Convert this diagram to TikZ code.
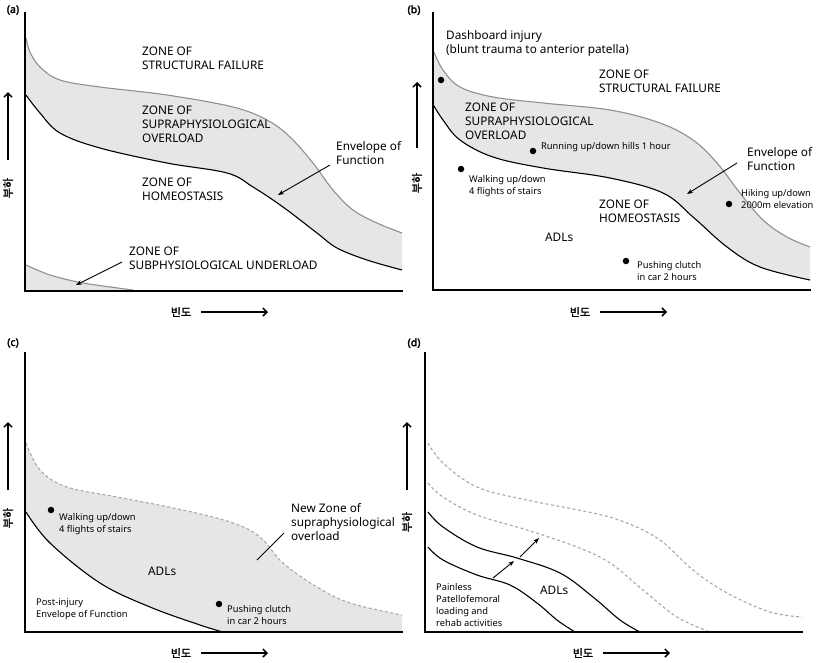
\documentclass[tikz,border=0pt]{standalone}
\usepackage{fontspec}
\setmainfont{Noto Sans}[AutoFakeBold=2.5]
\newfontfamily\kr{Noto Sans CJK KR}[AutoFakeBold=2]
\usetikzlibrary{arrows.meta}
\definecolor{zonefill}{HTML}{E6E6E6}
\definecolor{curvegray}{HTML}{909090}
\definecolor{dashgray}{HTML}{A8A8A8}
\tikzset{
  axisline/.style={line width=1.8pt, line cap=rect},
  curveblack/.style={line width=1.1pt, black},
  curvegrey/.style={line width=1.1pt, curvegray},
  curvedash/.style={line width=1.1pt, dashgray, dash pattern=on 3pt off 2.5pt},
  bigtxt/.style={font=\fontsize{11.8}{14.3}\selectfont, align=left, anchor=base west, inner sep=0pt},
  smalltxt/.style={font=\fontsize{9.3}{12.3}\selectfont, align=left, anchor=base west, inner sep=0pt},
  paneltag/.style={font=\fontsize{10.5}{12}\selectfont\bfseries, inner sep=0pt},
  axlabel/.style={font=\fontsize{11}{12}\kr\bfseries, inner sep=0pt},
  axarrow/.style={line width=1.5pt, -{Straight Barb[length=4pt, width=8pt, line width=1.5pt]}},
  ptr/.style={line width=0.9pt, -{Stealth[length=6pt, width=4.5pt]}},
  dotmark/.style={circle, fill=black, inner sep=0pt, minimum size=6.5pt},
}
\begin{document}
\begin{tikzpicture}[x=1pt, y=-1pt]
\useasboundingbox (0,0) rectangle (819,662);
\fill[white] (0,0) rectangle (819,662);

% ================= Panel (a) =================
\fill[zonefill] plot[smooth, tension=0.6] coordinates {(26,38) (30,52) (40,67) (60,80) (100,87) (167,95) (233,107) (267,120) (290,137) (313,163) (333,190) (353,210) (377,223) (402,233)}
  -- plot[smooth, tension=0.6] coordinates {(402,270) (367,260) (337,248) (317,233) (283,207) (253,187) (227,173) (167,163) (100,148) (60,133) (40,113) (26,95)} -- cycle;
\draw[curvegrey] plot[smooth, tension=0.6] coordinates {(26,38) (30,52) (40,67) (60,80) (100,87) (167,95) (233,107) (267,120) (290,137) (313,163) (333,190) (353,210) (377,223) (402,233)};
\draw[curveblack] plot[smooth, tension=0.6] coordinates {(26,95) (40,113) (60,133) (100,148) (167,163) (227,173) (253,187) (283,207) (317,233) (337,248) (367,260) (402,270)};
\fill[zonefill] plot[smooth] coordinates {(26,265) (50,275) (83,283) (133,290)} -- (26,290) -- cycle;
\draw[curvegrey] plot[smooth] coordinates {(26,265) (50,275) (83,283) (133,290)};
\draw[axisline] (25,13) -- (25,291) -- (402,291);

\node[paneltag] (tagA) at (13,10) {(a)};
\node[bigtxt] (aStruct) at (142,69.3) {ZONE OF\\STRUCTURAL FAILURE};
\node[bigtxt] (aSupra) at (142,142.6) {ZONE OF\\SUPRAPHYSIOLOGICAL\\OVERLOAD};
\node[bigtxt] (aHomeo) at (142,200.3) {ZONE OF\\HOMEOSTASIS};
\node[bigtxt] (aEnv) at (336,164.3) {Envelope of\\Function};
\node[bigtxt] (aSub) at (129,269.3) {ZONE OF\\SUBPHYSIOLOGICAL UNDERLOAD};
\coordinate (aEnvTail) at (330,165);
\coordinate (aEnvTip) at (278,195);
\draw[ptr] (aEnvTail) -- (aEnvTip);
\coordinate (aSubTail) at (122,262);
\coordinate (aSubTip) at (76,285);
\draw[ptr] (aSubTail) -- (aSubTip);

\node[axlabel, rotate=90] (aLoad) at (8,188) {부하};
\coordinate (aYs) at (8,160);
\coordinate (aYe) at (8,92);
\draw[axarrow] (aYs) -- (aYe);
\node[axlabel] (aFreq) at (181,312) {빈도};
\coordinate (aXs) at (201,312);
\coordinate (aXe) at (268,312);
\draw[axarrow] (aXs) -- (aXe);

% ================= Panel (b) =================
\fill[zonefill] plot[smooth, tension=0.6] coordinates {(434,52) (443,70) (460,87) (493,97) (543,103) (610,110) (660,123) (693,140) (717,163) (740,193) (763,220) (787,237) (810,247)}
  -- plot[smooth, tension=0.6] coordinates {(810,280) (760,267) (727,247) (693,217) (663,193) (610,178) (543,168) (493,157) (460,140) (443,120) (434,106)} -- cycle;
\draw[curvegrey] plot[smooth, tension=0.6] coordinates {(434,52) (443,70) (460,87) (493,97) (543,103) (610,110) (660,123) (693,140) (717,163) (740,193) (763,220) (787,237) (810,247)};
\draw[curveblack] plot[smooth, tension=0.6] coordinates {(434,106) (443,120) (460,140) (493,157) (543,168) (610,178) (663,193) (693,217) (727,247) (760,267) (810,280)};
\draw[axisline] (433,13) -- (433,290) -- (810,290);

\node[paneltag] (tagB) at (414,10) {(b)};
\node[bigtxt] (bDash) at (446,53.3) {Dashboard injury\\(blunt trauma to anterior patella)};
\node[dotmark] (bDotDash) at (441,80) {};
\node[bigtxt] (bStruct) at (599,92.3) {ZONE OF\\STRUCTURAL FAILURE};
\node[bigtxt] (bSupra) at (465,139.6) {ZONE OF\\SUPRAPHYSIOLOGICAL\\OVERLOAD};
\node[dotmark] (bDotRun) at (533,151) {};
\node[smalltxt] (bRun) at (541,149) {Running up/down hills 1 hour};
\node[dotmark] (bDotWalk) at (461,169) {};
\node[smalltxt] (bWalk) at (469,194.3) {Walking up/down\\4 flights of stairs};
\node[bigtxt] (bEnv) at (747,170.3) {Envelope of\\Function};
\coordinate (bEnvTail) at (737,163);
\coordinate (bEnvTip) at (687,194);
\draw[ptr] (bEnvTail) -- (bEnvTip);
\node[dotmark] (bDotHike) at (729,204) {};
\node[smalltxt] (bHike) at (741,208.3) {Hiking up/down\\2000m elevation};
\node[bigtxt] (bHomeo) at (599,222.3) {ZONE OF\\HOMEOSTASIS};
\node[bigtxt] (bADL) at (545,241) {ADLs};
\node[dotmark] (bDotPush) at (626,261) {};
\node[smalltxt] (bPush) at (637,280.3) {Pushing clutch\\in car 2 hours};

\node[axlabel, rotate=90] (bLoad) at (417,183) {부하};
\coordinate (bYs) at (417,148);
\coordinate (bYe) at (417,82);
\draw[axarrow] (bYs) -- (bYe);
\node[axlabel] (bFreq) at (580,312) {빈도};
\coordinate (bXs) at (600,312);
\coordinate (bXe) at (667,312);
\draw[axarrow] (bXs) -- (bXe);

% ================= Panel (c) =================
\fill[zonefill] plot[smooth, tension=0.6] coordinates {(26,443) (40,470) (67,487) (117,497) (183,510) (233,523) (260,537) (283,563) (317,587) (350,603) (402,615)}
  -- (402,632) -- (223,632)
  -- plot[smooth, tension=0.6] coordinates {(223,632) (200,625) (150,607) (100,583) (50,543) (26,512)} -- cycle;
\draw[curvedash] plot[smooth, tension=0.6] coordinates {(26,443) (40,470) (67,487) (117,497) (183,510) (233,523) (260,537) (283,563) (317,587) (350,603) (402,615)};
\draw[curveblack] plot[smooth, tension=0.6] coordinates {(26,512) (50,543) (100,583) (150,607) (200,625) (223,632)};
\draw[axisline] (25,353) -- (25,632) -- (402,632);

\node[paneltag] (tagC) at (13,343) {(c)};
\node[dotmark] (cDotWalk) at (51,510) {};
\node[smalltxt] (cWalk) at (59,532.3) {Walking up/down\\4 flights of stairs};
\node[bigtxt] (cNew) at (291,540.6) {New Zone of\\supraphysiological\\overload};
\coordinate (cNewA) at (284,533);
\coordinate (cNewB) at (257,560);
\draw[line width=0.9pt] (cNewA) -- (cNewB);
\node[bigtxt] (cADL) at (148,575) {ADLs};
\node[smalltxt] (cPost) at (36,617.3) {Post-injury\\Envelope of Function};
\node[dotmark] (cDotPush) at (219,604) {};
\node[smalltxt] (cPush) at (227,624.3) {Pushing clutch\\in car 2 hours};

\node[axlabel, rotate=90] (cLoad) at (8,518) {부하};
\coordinate (cYs) at (8,490);
\coordinate (cYe) at (8,422);
\draw[axarrow] (cYs) -- (cYe);
\node[axlabel] (cFreq) at (181,653) {빈도};
\coordinate (cXs) at (201,653);
\coordinate (cXe) at (268,653);
\draw[axarrow] (cXs) -- (cXe);

% ================= Panel (d) =================
\draw[curvedash] plot[smooth, tension=0.6] coordinates {(428,443) (443,463) (477,487) (527,500) (593,513) (627,523) (660,540) (693,570) (727,593) (770,612) (802,617)};
\draw[curvedash] plot[smooth, tension=0.6] coordinates {(428,483) (443,497) (477,515) (527,530) (577,547) (610,563) (643,590) (677,617) (710,632)};
\draw[curveblack] plot[smooth, tension=0.6] coordinates {(428,512) (443,527) (477,547) (517,558) (560,573) (593,597) (620,620) (640,632)};
\draw[curveblack] plot[smooth, tension=0.6] coordinates {(428,547) (443,560) (477,575) (510,585) (537,603) (557,620) (575,632)};
\draw[axisline] (425,353) -- (425,632) -- (802,632);

\node[paneltag] (tagD) at (414,343) {(d)};
\coordinate (dA1s) at (493,578);
\coordinate (dA1e) at (514,561);
\draw[ptr] (dA1s) -- (dA1e);
\coordinate (dA2s) at (520,557);
\coordinate (dA2e) at (539,538);
\draw[ptr] (dA2s) -- (dA2e);
\node[smalltxt] (dPain) at (436,626.9) {Painless\\Patellofemoral\\loading and\\rehab activities};
\node[bigtxt] (dADL) at (540,594) {ADLs};

\node[axlabel, rotate=90] (dLoad) at (407,522) {부하};
\coordinate (dYs) at (407,490);
\coordinate (dYe) at (407,422);
\draw[axarrow] (dYs) -- (dYe);
\node[axlabel] (dFreq) at (583,653) {빈도};
\coordinate (dXs) at (603,653);
\coordinate (dXe) at (670,653);
\draw[axarrow] (dXs) -- (dXe);
\end{tikzpicture}
\end{document}
